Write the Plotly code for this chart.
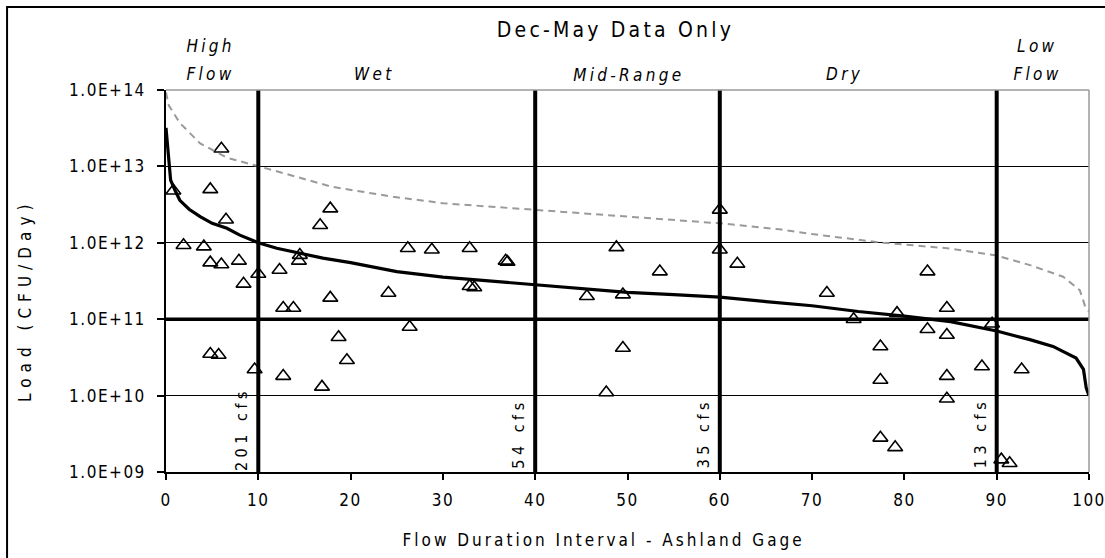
import plotly.graph_objects as go

# ---------------- data ----------------
obs_x = [6.0, 0.8, 4.8, 6.5, 1.9, 4.1, 4.8, 6.0, 7.9, 8.4,
         10.0, 12.3, 14.5, 14.4, 17.8, 16.7, 12.7, 13.8, 17.8, 24.1,
         26.2, 4.8, 5.7, 9.6, 12.7, 18.7, 19.6, 16.9, 26.4, 28.8,
         32.9, 36.8, 37.0, 32.9, 33.4, 48.8, 53.5, 45.6, 49.5, 49.5,
         47.7, 60.0, 60.0, 61.9, 71.6, 74.5, 77.4, 77.4, 77.4, 82.5,
         84.6, 79.2, 82.5, 84.6, 89.5, 84.6, 84.6, 88.4, 92.7, 79.0,
         90.5, 91.4]
obs_y = [1.7e13, 4.8e12, 5.0e12, 2.0e12, 9.3e11, 8.9e11, 5.5e11, 5.2e11, 5.8e11, 2.9e11,
         3.9e11, 4.4e11, 6.9e11, 5.8e11, 2.8e12, 1.7e12, 1.4e11, 1.4e11, 1.9e11, 2.2e11,
         8.5e11, 3.5e10, 3.4e10, 2.2e10, 1.8e10, 5.8e10, 2.9e10, 1.3e10, 7.9e10, 8.1e11,
         8.5e11, 5.8e11, 5.6e11, 2.7e11, 2.6e11, 8.7e11, 4.2e11, 2.0e11, 2.1e11, 4.2e10,
         1.1e10, 2.7e12, 8.1e11, 5.3e11, 2.2e11, 1.0e11, 4.4e10, 1.6e10, 2.8e9, 4.2e11,
         1.4e11, 1.2e11, 7.4e10, 6.2e10, 8.7e10, 1.8e10, 9.1e9, 2.4e10, 2.2e10, 2.1e9,
         1.45e9, 1.3e9]

curve_x = [0, 0.15, 0.3, 0.5, 1, 1.5, 2.5, 3.7, 5, 6.6, 8, 10, 12, 14.5, 17, 20, 25, 30,
           35, 40, 45, 50, 55, 60, 65, 70, 75, 80, 85, 90, 93.6, 96.1, 98.6, 99.4, 99.7, 100]
curve_y = [3.2e13, 2.0e13, 1.0e13, 6.6e12, 4.8e12, 3.6e12, 2.75e12, 2.2e12, 1.8e12, 1.55e12,
           1.26e12, 1.0e12, 8.5e11, 7.4e11, 6.3e11, 5.5e11, 4.2e11, 3.55e11, 3.16e11, 2.8e11,
           2.5e11, 2.25e11, 2.1e11, 1.95e11, 1.7e11, 1.5e11, 1.26e11, 1.1e11, 9.3e10, 7.0e10,
           5.4e10, 4.4e10, 3.1e10, 2.2e10, 1.26e10, 1.0e10]

max_x = [0, 0.3, 1.5, 3.7, 6.6, 9.5, 11.6, 18, 24.6, 30, 40, 50, 60, 66.5, 70, 77.7,
         84.6, 90, 93.6, 97.2, 99, 99.6, 100]
max_y = [9.3e13, 6.3e13, 3.7e13, 2.0e13, 1.3e13, 1.05e13, 8.9e12, 5.4e12, 4.0e12, 3.3e12,
         2.7e12, 2.2e12, 1.8e12, 1.5e12, 1.3e12, 1.0e12, 8.5e11, 6.8e11, 5.1e11, 3.6e11,
         2.4e11, 1.45e11, 1.26e11]

ref_load = 1e11
x_span = [0, 100]

zone_bounds = [10, 40, 60, 90]
zone_flows = ["201 cfs", "54 cfs", "35 cfs", "13 cfs"]

y_tickvals = [1e9, 1e10, 1e11, 1e12, 1e13, 1e14]
y_ticktext = ["1.0E+09", "1.0E+10", "1.0E+11", "1.0E+12", "1.0E+13", "1.0E+14"]
x_tickvals = [0, 10, 20, 30, 40, 50, 60, 70, 80, 90, 100]

FONT = "Liberation Sans Narrow, DejaVu Sans Condensed, Arial Narrow, sans-serif"

fig = go.Figure()

fig.add_trace(go.Scatter(
    x=obs_x, y=obs_y, mode="markers",
    marker=dict(symbol="triangle-up-open", size=13, color="black",
                line=dict(width=1.6, color="black")),
    showlegend=False, cliponaxis=False))

fig.add_trace(go.Scatter(
    x=max_x, y=max_y, mode="lines",
    line=dict(color="#9a9a9a", width=2, dash="7px,5px"),
    showlegend=False))

fig.add_trace(go.Scatter(
    x=curve_x, y=curve_y, mode="lines",
    line=dict(color="black", width=3.2),
    showlegend=False))

fig.add_trace(go.Scatter(
    x=x_span, y=[ref_load, ref_load], mode="lines",
    line=dict(color="black", width=3.5),
    showlegend=False))

shapes = []
for b in zone_bounds:
    shapes.append(dict(type="line", xref="x", yref="paper", x0=b, x1=b, y0=0, y1=1,
                       line=dict(color="black", width=4), layer="above"))
# gray top / right border of plot area
shapes.append(dict(type="line", xref="paper", yref="paper", x0=0, x1=1, y0=1, y1=1,
                   line=dict(color="#9a9a9a", width=1.5), layer="above"))
shapes.append(dict(type="line", xref="paper", yref="paper", x0=1, x1=1, y0=0, y1=1,
                   line=dict(color="#9a9a9a", width=1.5), layer="above"))
# outer chart frame
shapes.append(dict(type="rect", xref="paper", yref="paper", x0=-0.1722, x1=1.03,
                   y0=-0.25, y1=1.2173, line=dict(color="black", width=2)))

annotations = [
    dict(text="Dec-May Data Only", x=0.4875, y=1.157, font=dict(size=21)),
    dict(text="<i>High</i>", x=0.0477, y=1.115),
    dict(text="<i>Flow</i>", x=0.0477, y=1.042),
    dict(text="<i>Wet</i>", x=0.2264, y=1.042),
    dict(text="<i>Mid-Range</i>", x=0.5016, y=1.040),
    dict(text="<i>Dry</i>", x=0.7356, y=1.042),
    dict(text="<i>Low</i>", x=0.9437, y=1.115),
    dict(text="<i>Flow</i>", x=0.9437, y=1.042),
    dict(text="Flow Duration Interval - Ashland Gage", x=0.4735, y=-0.178),
    dict(text="Load (CFU/Day)", x=-0.1528, y=0.45, textangle=-90),
]
for a in annotations:
    a.setdefault("font", dict(size=17))
    a["font"].update(family=FONT, color="black")
    a.update(xref="paper", yref="paper", showarrow=False, xanchor="center", yanchor="middle")

for b, lab in zip(zone_bounds, zone_flows):
    annotations.append(dict(text=lab, x=b, y=9, xref="x", yref="y", showarrow=False,
                            textangle=-90, xanchor="right", yanchor="bottom",
                            xshift=-5, yshift=15,
                            font=dict(family=FONT, size=16, color="black")))

fig.update_layout(
    width=1105, height=558,
    margin=dict(l=166, r=16, t=90, b=86, autoexpand=False),
    paper_bgcolor="white", plot_bgcolor="white",
    font=dict(family=FONT, size=17, color="black"),
    shapes=shapes, annotations=annotations,
    showlegend=False,
)
fig.update_xaxes(range=[0, 100], tickvals=x_tickvals, ticks="outside", ticklen=6,
                 tickwidth=1.5, tickcolor="black", showgrid=False, zeroline=False,
                 showline=True, linecolor="black", linewidth=1.5, automargin=False,
                 ticklabelstandoff=6, tickfont=dict(size=17))
fig.update_yaxes(type="log", range=[9, 14], tickvals=y_tickvals, ticktext=y_ticktext,
                 ticks="outside", ticklen=7, tickwidth=1.5, tickcolor="black",
                 showgrid=True, gridcolor="black", gridwidth=1.3, zeroline=False,
                 showline=True, linecolor="black", linewidth=1.5, automargin=False,
                 ticklabelstandoff=8, tickfont=dict(size=17))

css = """
var st = document.createElement('style');
st.textContent = '.main-svg text{letter-spacing:1.5px;}'
  + ' .annotation text{letter-spacing:3.3px;}'
  + ' .annotation[data-index="0"] text{letter-spacing:3.2px;}'
  + ' .annotation[data-index="8"] text{letter-spacing:3.0px;}'
  + ' .annotation[data-index="9"] text{letter-spacing:6px;}'
  + ' .annotation[data-index="10"] text, .annotation[data-index="11"] text,'
  + ' .annotation[data-index="12"] text, .annotation[data-index="13"] text{letter-spacing:4.5px;}';
document.head.appendChild(st);
"""
fig.write_html("out.html", post_script=css)
